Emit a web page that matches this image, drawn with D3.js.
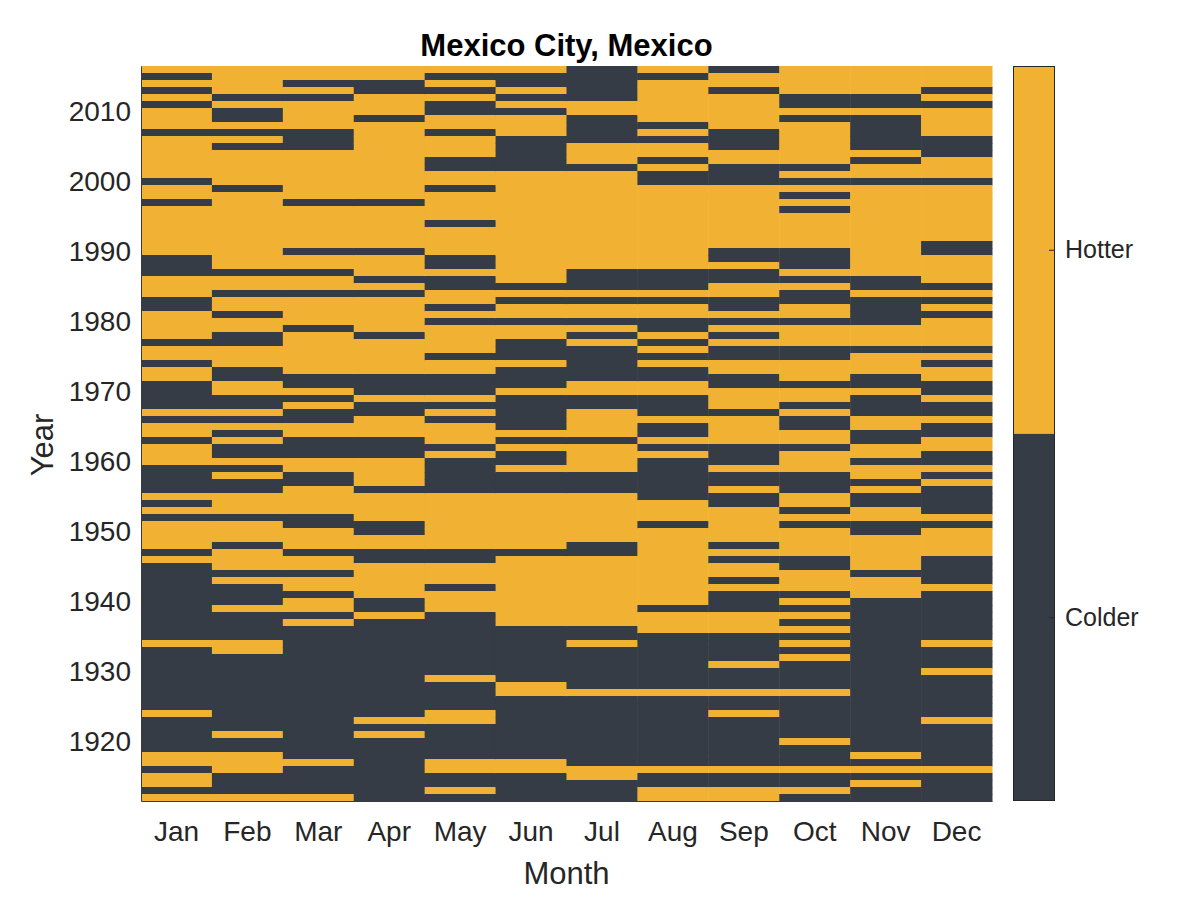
<!DOCTYPE html>
<html>
<head>
<meta charset="utf-8">
<script src="https://cdnjs.cloudflare.com/ajax/libs/d3/7.8.5/d3.min.js"></script>
<style>
  body { margin: 0; background: #fff; }
  svg text { font-family: Arial, "Liberation Sans", Helvetica, sans-serif; fill: #262626; }
</style>
</head>
<body>
<svg width="1200" height="900"></svg>
<script>
// hotter (1) / colder (0) than the monthly average, one char per year, 2016 at the top down to 1912
var months = ["Jan", "Feb", "Mar", "Apr", "May", "Jun", "Jul", "Aug", "Sep", "Oct", "Nov", "Dec"];
var firstYear = 1912;
var lastYear = 2016;

var jan = "101010111011111101" + "101111111000111001" + "111011011000010110" + "111000010101111010" + "000000000010000000" + "001000001101101";
var feb = "111101001010111110" + "111111111110110110" + "110011100110010101" + "001010011101110111" + "010001000011000000" + "000001001110001";
var mar = "110101111000111111" + "101111110110110111" + "101111110010100110" + "001100111100111011" + "011011010000000000" + "000000000100001";
var apr = "110011101111111111" + "101111110111010111" + "110111110001001110" + "001111011110011001" + "111100100000000000" + "000101000000000";
var may = "101010011011100110" + "111101111001001101" + "011110110001010111" + "010000011111111001" + "110111000000000100" + "001100000110010";
var jun = "100101011100000111" + "111111111111101011" + "011000100010000010" + "100100011111111011" + "111111110000000011" + "000000000110000";
var jul = "000001100001110111" + "111111111110001011" + "010100000110011110" + "111100011111110011" + "111111110010000001" + "000000000011000";
var aug = "101111110101101001" + "111111111110001011" + "001010100110001001" + "010000001110111111" + "111110111000000001" + "000000000010011";
var sep = "011011111000110001" + "111111110010011001" + "010100110011101111" + "000100100111110101" + "101000111000010001" + "001000000010011";
var oct = "111100101111110101" + "010111110001010011" + "011100111011010011" + "011100011010111100" + "111010101010100001" + "000000100010010";
var nov = "111100100000101101" + "111111111111001000" + "011101110010001100" + "110110100110011111" + "011100000000000000" + "000000001010100";
var dec = "111010111100011101" + "111111100111101010" + "111101011001001001" + "100101000010111100" + "001000000010001000" + "000100000010000";

var yearTicks = [1920, 1930, 1940, 1950, 1960, 1970, 1980, 1990, 2000, 2010];
var classes = ["Colder", "Hotter"];
var colors = ["#363c46", "#f1b234"];

function drawStripes() {
  var svg = d3.select("svg");
  var plot = { left: 141, right: 992, top: 66, bottom: 801 };

  // flatten into cells
  var series = [jan, feb, mar, apr, may, jun, jul, aug, sep, oct, nov, dec];
  var cells = [];
  series.forEach((s, m) => {
    s.split("").forEach((c, i) => {
      cells.push({ month: months[m], year: lastYear - i, hot: +c });
    });
  });

  var xScale =
    d3.scaleBand()
      .domain(months)
      .range([plot.left, plot.right]);

  var yScale =
    d3.scaleLinear()
      .domain([firstYear - 0.5, lastYear + 0.5])
      .range([plot.bottom, plot.top]);

  var zScale =
    d3.scaleOrdinal()
      .domain([0, 1])
      .range(colors);

  svg.append("g")
    .selectAll("rect")
    .data(cells)
    .join("rect")
      .attr("x", d => xScale(d.month))
      .attr("y", d => yScale(d.year + 0.5))
      .attr("width", xScale.bandwidth() + 0.5)
      .attr("height", d => yScale(d.year - 0.5) - yScale(d.year + 0.5) + 0.5)
      .attr("fill", d => zScale(d.hot));

  // axes
  var xAxis = svg.append("g")
      .attr("transform", `translate(0, ${plot.bottom})`)
      .call(d3.axisBottom(xScale).tickSize(0).tickPadding(20));

  var yAxis = svg.append("g")
      .attr("transform", `translate(${plot.left}, 0)`)
      .call(d3.axisLeft(yScale).tickValues(yearTicks).tickFormat(d3.format("d")).tickSize(0).tickPadding(10));

  [xAxis, yAxis].forEach(a => {
    a.select(".domain").attr("stroke", "#3a3a3a").attr("stroke-width", 1);
    a.selectAll("text").style("font-size", "28px").attr("fill", "#262626");
  });

  svg.append("text")
      .attr("x", (plot.left + plot.right) / 2)
      .attr("y", 884)
      .attr("text-anchor", "middle")
      .style("font-size", "31px")
      .text("Month");

  svg.append("text")
      .attr("transform", `translate(53, 445) rotate(-90)`)
      .attr("text-anchor", "middle")
      .style("font-size", "31px")
      .text("Year");

  svg.append("text")
      .attr("x", (plot.left + plot.right) / 2)
      .attr("y", 56)
      .attr("text-anchor", "middle")
      .style("font-size", "31px")
      .style("font-weight", "bold")
      .style("fill", "#000")
      .text("Mexico City, Mexico");

  // colorbar
  var bar = { left: 1013, right: 1055 };
  var cScale =
    d3.scaleLinear()
      .domain([0, 2])
      .range([plot.bottom, plot.top]);

  svg.append("g")
    .selectAll("rect")
    .data(classes)
    .join("rect")
      .attr("x", bar.left)
      .attr("y", (d, i) => cScale(i + 1))
      .attr("width", bar.right - bar.left)
      .attr("height", (d, i) => cScale(i) - cScale(i + 1))
      .attr("fill", (d, i) => colors[i]);

  svg.append("rect")
      .attr("x", bar.left + 0.5)
      .attr("y", plot.top + 0.5)
      .attr("width", bar.right - bar.left - 1)
      .attr("height", plot.bottom - plot.top - 1)
      .attr("fill", "none")
      .attr("stroke", "#262626");

  var cAxis = svg.append("g")
      .attr("transform", `translate(${bar.right}, 0)`)
      .call(d3.axisRight(cScale).tickValues([0.5, 1.5]).tickFormat((d, i) => classes[i]).tickSize(-6).tickPadding(10));

  cAxis.select(".domain").remove();
  cAxis.selectAll("line").attr("stroke", "#262626");
  cAxis.selectAll("text").style("font-size", "25px").attr("fill", "#262626");
}

drawStripes();
</script>
</body>
</html>
